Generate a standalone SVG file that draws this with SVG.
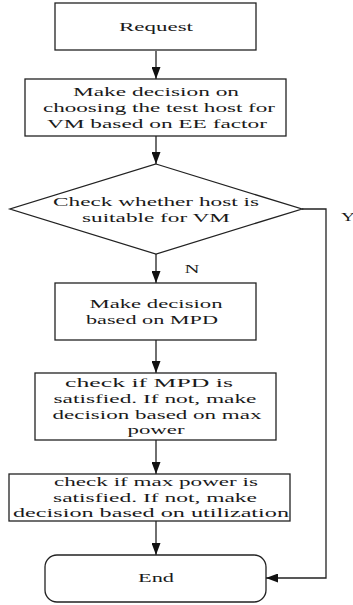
<svg xmlns="http://www.w3.org/2000/svg" width="353" height="605" viewBox="0 0 353 605">
  <style>
    .box { fill: #fff; stroke: #222; stroke-width: 1.3; }
    .lbl { font-family: "Liberation Serif", "Times New Roman", serif; font-size: 12.5px; fill: #1a1a1a; text-anchor: middle; }
    .edge { fill: none; stroke: #222; stroke-width: 1.3; }
  </style>
  <defs>
    <marker id="arrow" viewBox="0 0 12 9" refX="12" refY="4.5" markerWidth="12" markerHeight="9" markerUnits="userSpaceOnUse" orient="auto">
      <path d="M0,0 L12,4.5 L0,9 Z" fill="#111"/>
    </marker>
  </defs>
  <rect width="353" height="605" fill="#fff"/>

  <g id="connectors">
    <line class="edge" x1="156" y1="51" x2="156" y2="79" marker-end="url(#arrow)"/>
    <line class="edge" x1="156" y1="136" x2="156" y2="164" marker-end="url(#arrow)"/>
    <line class="edge" x1="156" y1="254" x2="156" y2="283" marker-end="url(#arrow)"/>
    <line class="edge" x1="156" y1="340" x2="156" y2="373" marker-end="url(#arrow)"/>
    <line class="edge" x1="156" y1="440" x2="156" y2="474" marker-end="url(#arrow)"/>
    <line class="edge" x1="156" y1="521" x2="156" y2="555" marker-end="url(#arrow)"/>
    <polyline class="edge" points="302,209 326,209 326,578 266,578" marker-end="url(#arrow)"/>
    <text class="lbl" x="192" y="273" textLength="15" lengthAdjust="spacingAndGlyphs">N</text>
    <text class="lbl" x="348" y="221" textLength="14" lengthAdjust="spacingAndGlyphs">Y</text>
  </g>

  <g id="request">
    <rect class="box" x="55" y="3" width="201" height="47"/>
    <text class="lbl" x="156" y="31" textLength="74" lengthAdjust="spacingAndGlyphs">Request</text>
  </g>

  <g id="choose-host">
    <rect class="box" x="25" y="79" width="261" height="57"/>
    <text class="lbl" x="156" y="96" textLength="166" lengthAdjust="spacingAndGlyphs">Make decision on</text>
    <text class="lbl" x="159" y="112" textLength="232" lengthAdjust="spacingAndGlyphs">choosing the test host for</text>
    <text class="lbl" x="157" y="128" textLength="220" lengthAdjust="spacingAndGlyphs">VM based on EE factor</text>
  </g>

  <g id="check-host">
    <polygon class="box" points="156,164 302,209 156,254 10,209"/>
    <text class="lbl" x="156" y="206" textLength="206" lengthAdjust="spacingAndGlyphs">Check whether host is</text>
    <text class="lbl" x="156" y="222" textLength="148" lengthAdjust="spacingAndGlyphs">suitable for VM</text>
  </g>

  <g id="mpd-decision">
    <rect class="box" x="55" y="283" width="201" height="57"/>
    <text class="lbl" x="156" y="308" textLength="133" lengthAdjust="spacingAndGlyphs">Make decision</text>
    <text class="lbl" x="152" y="324" textLength="132" lengthAdjust="spacingAndGlyphs">based on MPD</text>
  </g>

  <g id="check-mpd">
    <rect class="box" x="35" y="373" width="241" height="67"/>
    <text class="lbl" x="149" y="387" textLength="168" lengthAdjust="spacingAndGlyphs">check if MPD is</text>
    <text class="lbl" x="155" y="403" textLength="203" lengthAdjust="spacingAndGlyphs">satisfied. If not, make</text>
    <text class="lbl" x="157" y="419" textLength="209" lengthAdjust="spacingAndGlyphs">decision based on max</text>
    <text class="lbl" x="156" y="434" textLength="57" lengthAdjust="spacingAndGlyphs">power</text>
  </g>

  <g id="check-max-power">
    <rect class="box" x="9" y="474" width="281" height="47"/>
    <text class="lbl" x="156" y="486" textLength="204" lengthAdjust="spacingAndGlyphs">check if max power is</text>
    <text class="lbl" x="155" y="502" textLength="204" lengthAdjust="spacingAndGlyphs">satisfied. If not, make</text>
    <text class="lbl" x="151" y="517" textLength="276" lengthAdjust="spacingAndGlyphs">decision based on utilization</text>
  </g>

  <g id="end">
    <rect class="box" x="45" y="555" width="221" height="47" rx="12" ry="12"/>
    <text class="lbl" x="156" y="582" textLength="36" lengthAdjust="spacingAndGlyphs">End</text>
  </g>
</svg>
